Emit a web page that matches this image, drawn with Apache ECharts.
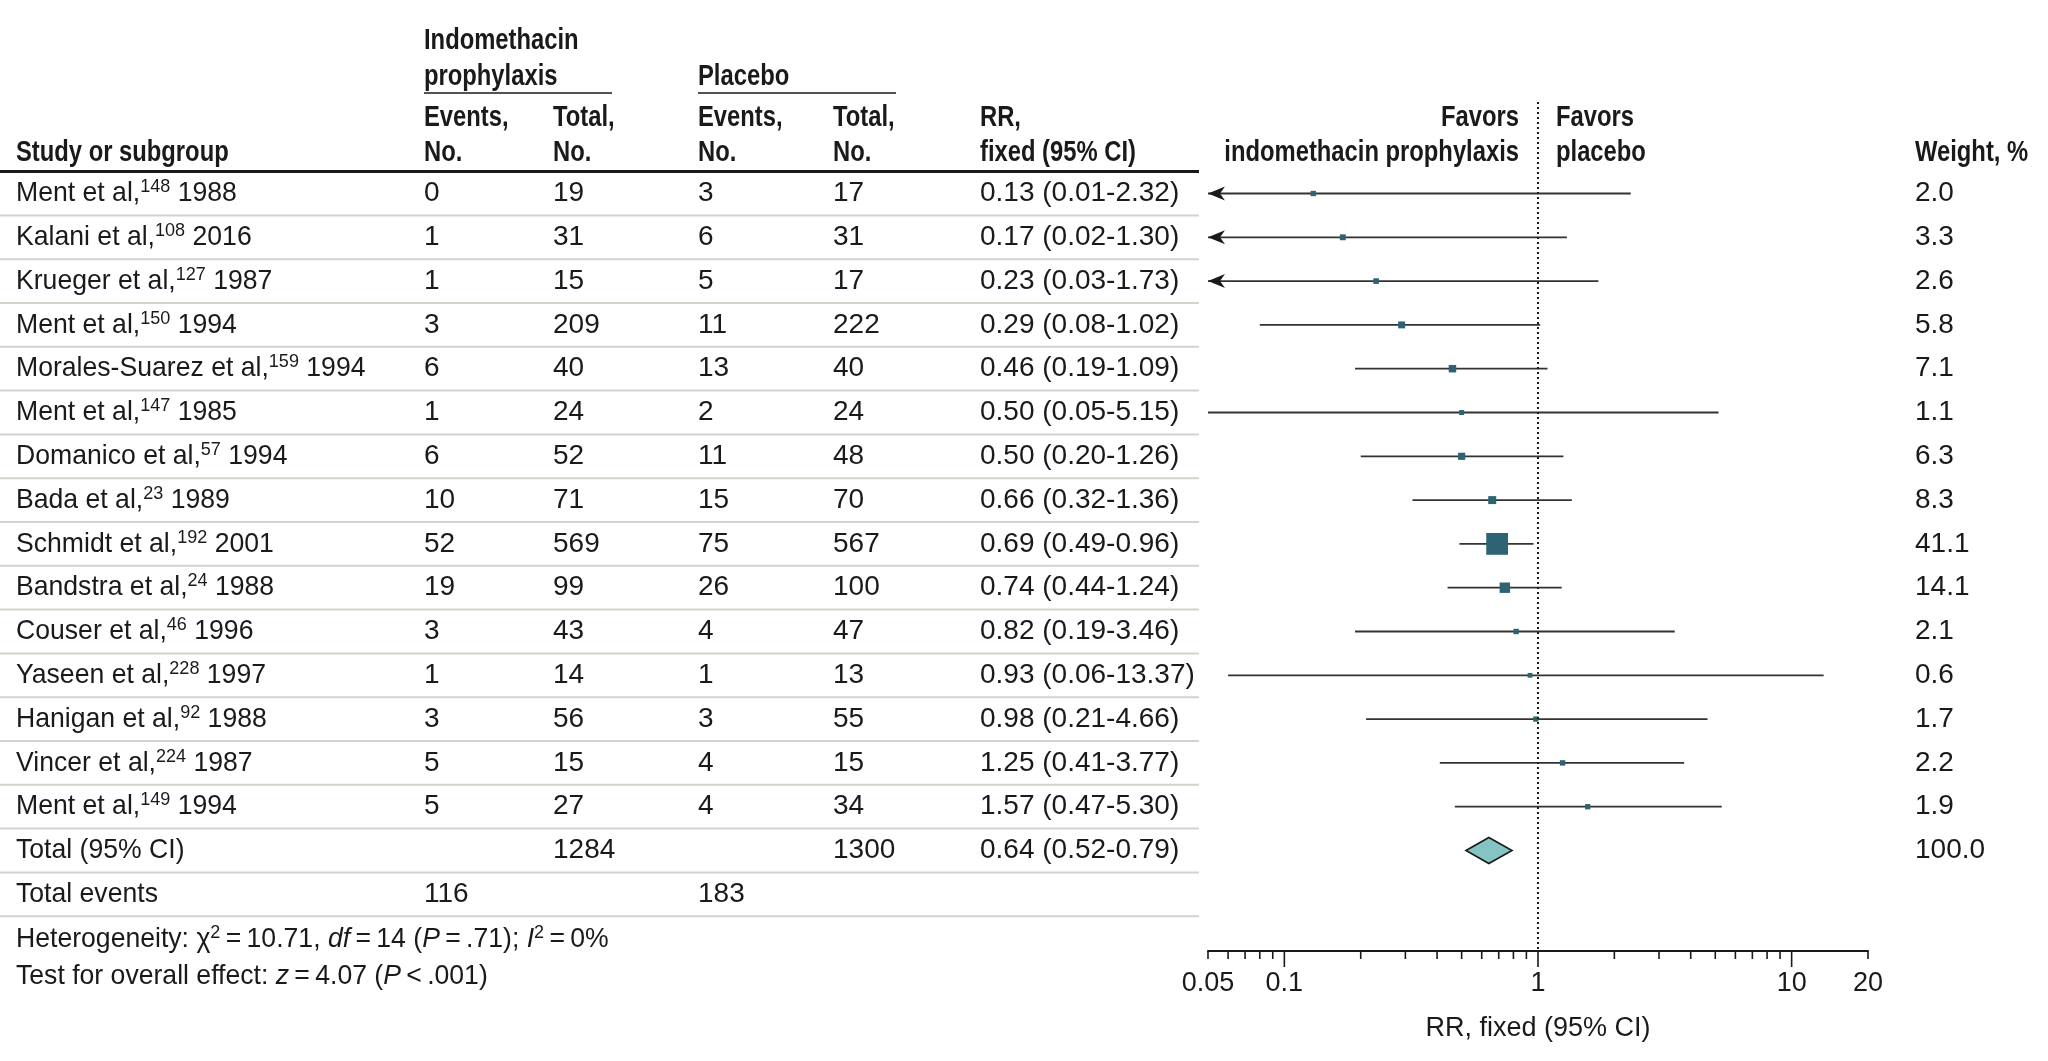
<!DOCTYPE html>
<html>
<head>
<meta charset="utf-8">
<title>Indomethacin prophylaxis vs placebo</title>
<script src="https://cdn.jsdelivr.net/npm/echarts@6/dist/echarts.min.js"></script>
<style>
  html, body { margin: 0; padding: 0; background: #fff; }
  #chart { width: 2048px; height: 1061px; }
</style>
</head>
<body>
<div id="chart"></div>
<script>
// study rows, top to bottom
const studyNames = ['Ment et al,', 'Kalani et al,', 'Krueger et al,', 'Ment et al,', 'Morales-Suarez et al,',
    'Ment et al,', 'Domanico et al,', 'Bada et al,', 'Schmidt et al,', 'Bandstra et al,',
    'Couser et al,', 'Yaseen et al,', 'Hanigan et al,', 'Vincer et al,', 'Ment et al,'];
const studyRefs = [148, 108, 127, 150, 159, 147, 57, 23, 192, 24, 46, 228, 92, 224, 149];
const studyYears = [1988, 2016, 1987, 1994, 1994, 1985, 1994, 1989, 2001, 1988, 1996, 1997, 1988, 1987, 1994];
const indoEvents = [0, 1, 1, 3, 6, 1, 6, 10, 52, 19, 3, 1, 3, 5, 5];
const indoTotal = [19, 31, 15, 209, 40, 24, 52, 71, 569, 99, 43, 14, 56, 15, 27];
const placeboEvents = [3, 6, 5, 11, 13, 2, 11, 15, 75, 26, 4, 1, 3, 4, 4];
const placeboTotal = [17, 31, 17, 222, 40, 24, 48, 70, 567, 100, 47, 13, 55, 15, 34];
const rrValues = [0.13, 0.17, 0.23, 0.29, 0.46, 0.50, 0.50, 0.66, 0.69, 0.74, 0.82, 0.93, 0.98, 1.25, 1.57];
const ciLow = [0.01, 0.02, 0.03, 0.08, 0.19, 0.05, 0.20, 0.32, 0.49, 0.44, 0.19, 0.06, 0.21, 0.41, 0.47];
const ciHigh = [2.32, 1.30, 1.73, 1.02, 1.09, 5.15, 1.26, 1.36, 0.96, 1.24, 3.46, 13.37, 4.66, 3.77, 5.30];
const weights = [2.0, 3.3, 2.6, 5.8, 7.1, 1.1, 6.3, 8.3, 41.1, 14.1, 2.1, 0.6, 1.7, 2.2, 1.9];

// pooled result
const pooledTotals = [1284, 1300];
const pooledEstimate = [0.64, 0.52, 0.79];
const pooledWeight = 100.0;
const totalEvents = [116, 183];

// RR axis
const majorTicks = [0.1, 1, 10];
const minorTicks = [0.05, 0.06, 0.07, 0.08, 0.09, 0.2, 0.3, 0.4, 0.5, 0.6, 0.7, 0.8, 0.9,
    2, 3, 4, 5, 6, 7, 8, 9, 20];
const tickLabels = [0.05, 0.1, 1, 10, 20];

// layout
const W = 2048, H = 1061;
const ROW0 = 193.5, ROW_H = 43.8;
const PLOT_TOP = 102, PLOT_BOTTOM = 951;
const AX_MIN = 0.05, AX_MAX = 20;
const TABLE_RIGHT = 1199;
const COL = { study: 16, indoEv: 424, indoTot: 553, plEv: 698, plTot: 833, rr: 980, weight: 1915 };
const INK = '#1a1a1a';
const FONT = '"Liberation Sans", Arial, sans-serif';
const BODY = '28px ' + FONT;
const HEAD = 'bold 29px ' + FONT;
const HEAD_SX = 0.82;   // narrow look of the header face
const WORD_SX = 0.95;   // letters in the reference face run a bit narrower

const toRow = y => (y - ROW0) / ROW_H;
const nStudies = studyNames.length;
const totalRow = nStudies, eventsRow = nStudies + 1;

const richBody = {
    n: { fontSize: 28, fontFamily: FONT, lineHeight: 32, fill: INK },
    s: { fontSize: 19, fontFamily: FONT, lineHeight: 22, verticalAlign: 'top', fill: INK },
    i: { fontSize: 28, fontFamily: FONT, fontStyle: 'italic', lineHeight: 32, fill: INK }
};

const fmtCI = (r, l, h) => r.toFixed(2) + ' (' + l.toFixed(2) + '-' + h.toFixed(2) + ')';

// [column x, text, horizontal squeeze]
function rowCells(i) {
    if (i < nStudies) {
        return [
            [COL.study, '{n|' + studyNames[i] + '}{s|' + studyRefs[i] + '}{n| ' + studyYears[i] + '}', WORD_SX],
            [COL.indoEv, String(indoEvents[i]), 1],
            [COL.indoTot, String(indoTotal[i]), 1],
            [COL.plEv, String(placeboEvents[i]), 1],
            [COL.plTot, String(placeboTotal[i]), 1],
            [COL.rr, fmtCI(rrValues[i], ciLow[i], ciHigh[i]), 1],
            [COL.weight, weights[i].toFixed(1), 1]
        ];
    }
    if (i === totalRow) {
        return [
            [COL.study, 'Total (95% CI)', WORD_SX],
            [COL.indoTot, String(pooledTotals[0]), 1],
            [COL.plTot, String(pooledTotals[1]), 1],
            [COL.rr, fmtCI(pooledEstimate[0], pooledEstimate[1], pooledEstimate[2]), 1],
            [COL.weight, pooledWeight.toFixed(1), 1]
        ];
    }
    return [
        [COL.study, 'Total events', WORD_SX],
        [COL.indoEv, String(totalEvents[0]), 1],
        [COL.plEv, String(totalEvents[1]), 1]
    ];
}

function renderTableRow(params, api) {
    const i = api.value(1);
    const y = api.coord([0, i])[1];
    const children = rowCells(i).map(([cx, txt, sx]) => ({
        type: 'text',
        x: api.coord([cx, i])[0], y: y, scaleX: sx,
        style: { text: txt, rich: richBody, font: BODY, fill: INK, align: 'left', verticalAlign: 'middle' }
    }));
    const yb = api.coord([0, i + 0.5])[1];
    children.push({
        type: 'line',
        shape: { x1: api.coord([0, i])[0], y1: yb, x2: api.coord([TABLE_RIGHT, i])[0], y2: yb },
        style: { stroke: '#d3d3cb', lineWidth: 2 }
    });
    if (i === 0) {
        const yt = api.coord([0, i - 0.5])[1];
        children.push({
            type: 'line',
            shape: { x1: api.coord([0, i])[0], y1: yt, x2: api.coord([TABLE_RIGHT, i])[0], y2: yt },
            style: { stroke: INK, lineWidth: 3 }
        });
    }
    return { type: 'group', children: children };
}

function renderForestRow(params, api) {
    const rr = api.value(0), row = api.value(1), lo = api.value(2), hi = api.value(3), w = api.value(4);
    const c = api.coord([rr, row]);
    const a = api.coord([Math.max(lo, AX_MIN), row]);
    const b = api.coord([Math.min(hi, AX_MAX), row]);
    if (row === totalRow) {
        return {
            type: 'polygon',
            shape: { points: [a, [c[0], c[1] - 13], b, [c[0], c[1] + 13]] },
            style: { fill: '#84c4c2', stroke: INK, lineWidth: 1.6 }
        };
    }
    const children = [{
        type: 'line',
        shape: { x1: a[0], y1: a[1], x2: b[0], y2: b[1] },
        style: { stroke: '#333333', lineWidth: 1.8 }
    }];
    if (lo < AX_MIN) {
        children.push({
            type: 'polygon',
            shape: { points: [[a[0], a[1]], [a[0] + 17, a[1] - 7], [a[0] + 12, a[1]], [a[0] + 17, a[1] + 7]] },
            style: { fill: INK }
        });
    }
    const s = 4.5 + 0.42 * w;
    children.push({
        type: 'rect',
        shape: { x: c[0] - s / 2, y: c[1] - s / 2, width: s, height: s },
        style: { fill: '#2d6372' }
    });
    return { type: 'group', children: children };
}

const yBottom = toRow(PLOT_BOTTOM);

function renderTick(params, api) {
    const v = api.value(0);
    const p = api.coord([v, yBottom]);
    const major = majorTicks.indexOf(v) >= 0;
    const children = [{
        type: 'line',
        shape: { x1: p[0], y1: p[1], x2: p[0], y2: p[1] + (major ? 16 : 8) },
        style: { stroke: INK, lineWidth: 1.6 }
    }];
    if (tickLabels.indexOf(v) >= 0) {
        children.push({
            type: 'text',
            style: { x: p[0], y: p[1] + 33, text: String(v), font: '27px ' + FONT, fill: INK,
                align: 'center', verticalAlign: 'middle' }
        });
    }
    return { type: 'group', children: children };
}

function headText(text, x, y, align) {
    return { type: 'text', x: x, y: y, scaleX: HEAD_SX, silent: true,
        style: { text: text, font: HEAD, fill: INK, align: align || 'left', verticalAlign: 'middle' } };
}
function headLine(x1, x2, y) {
    return { type: 'line', silent: true, shape: { x1: x1, y1: y, x2: x2, y2: y },
        style: { stroke: INK, lineWidth: 1.5 } };
}
function footText(text, y) {
    return { type: 'text', x: COL.study, y: y, scaleX: WORD_SX, silent: true,
        style: { text: text, rich: richBody, font: BODY, fill: INK, align: 'left', verticalAlign: 'middle' } };
}

const L1 = 41, L2 = 76.5, L3 = 118, L4 = 153;

const tableRows = [];
for (let i = 0; i <= eventsRow; i++) tableRows.push([0, i]);

const forestData = rrValues.map((v, i) => [v, i, ciLow[i], ciHigh[i], weights[i]]);
forestData.push([pooledEstimate[0], totalRow, pooledEstimate[1], pooledEstimate[2], pooledWeight]);

const tickData = minorTicks.concat(majorTicks).map(v => [v, yBottom]);

const chart = echarts.init(document.getElementById('chart'), null, { renderer: 'canvas' });
chart.setOption({
    backgroundColor: '#ffffff',
    animation: false,
    grid: [
        { left: 0, right: 0, top: 0, bottom: 0 },
        { left: 1208, right: W - 1868, top: PLOT_TOP, bottom: H - PLOT_BOTTOM }
    ],
    xAxis: [
        { gridIndex: 0, type: 'value', min: 0, max: W, show: false },
        {
            gridIndex: 1, type: 'log', logBase: 10, min: AX_MIN, max: AX_MAX, position: 'bottom',
            axisLine: { show: true, onZero: false, lineStyle: { color: INK, width: 2 } },
            axisTick: { show: false }, axisLabel: { show: false }, splitLine: { show: false },
            name: 'RR, fixed (95% CI)', nameLocation: 'middle', nameGap: 64,
            nameTextStyle: { fontSize: 27, fontFamily: FONT, color: INK }
        }
    ],
    yAxis: [
        { gridIndex: 0, type: 'value', inverse: true, min: toRow(0), max: toRow(H), show: false },
        { gridIndex: 1, type: 'value', inverse: true, min: toRow(PLOT_TOP), max: yBottom, show: false }
    ],
    graphic: [
        headText('Indomethacin', COL.indoEv, L1),
        headText('prophylaxis', COL.indoEv, L2),
        headLine(COL.indoEv, 612, 93),
        headText('Placebo', COL.plEv, L2),
        headLine(COL.plEv, 896, 93),
        headText('Events,', COL.indoEv, L3), headText('No.', COL.indoEv, L4),
        headText('Total,', COL.indoTot, L3), headText('No.', COL.indoTot, L4),
        headText('Events,', COL.plEv, L3), headText('No.', COL.plEv, L4),
        headText('Total,', COL.plTot, L3), headText('No.', COL.plTot, L4),
        headText('RR,', COL.rr, L3), headText('fixed (95% CI)', COL.rr, L4),
        headText('Study or subgroup', COL.study, L4),
        headText('Favors', 1519, L3, 'right'), headText('indomethacin prophylaxis', 1519, L4, 'right'),
        headText('Favors', 1556, L3), headText('placebo', 1556, L4),
        headText('Weight, %', COL.weight, L4),
        footText('Heterogeneity: \u03c7{s|2}\u2009=\u200910.71, {i|df}\u2009=\u200914 ({i|P}\u2009=\u2009.71); {i|I}{s|2}\u2009=\u20090%', 939),
        footText('Test for overall effect: {i|z}\u2009=\u20094.07 ({i|P}\u2009<\u2009.001)', 976)
    ],
    series: [
        {
            type: 'custom', name: 'table', xAxisIndex: 0, yAxisIndex: 0,
            renderItem: renderTableRow, data: tableRows, silent: true
        },
        {
            type: 'custom', name: 'forest', xAxisIndex: 1, yAxisIndex: 1,
            renderItem: renderForestRow, data: forestData, silent: true,
            encode: { x: 0, y: 1 },
            markLine: {
                silent: true, symbol: ['none', 'none'], label: { show: false },
                lineStyle: { color: INK, type: [2, 3], width: 2 },
                data: [{ xAxis: 1 }]
            }
        },
        {
            type: 'custom', name: 'ticks', xAxisIndex: 1, yAxisIndex: 1,
            renderItem: renderTick, data: tickData, silent: true,
            encode: { x: 0, y: 1 }
        }
    ]
});
</script>
</body>
</html>
